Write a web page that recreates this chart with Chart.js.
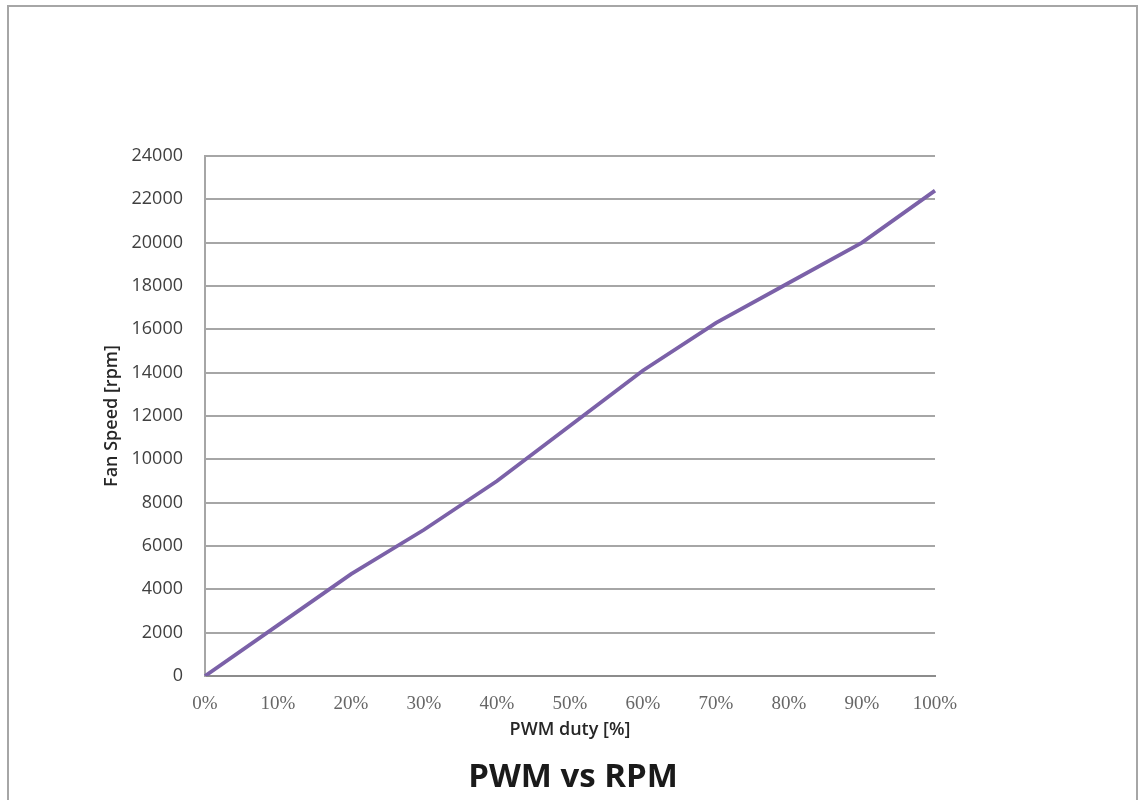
<!DOCTYPE html>
<html>
<head>
<meta charset="utf-8">
<script src="https://cdn.jsdelivr.net/npm/chart.js@4/dist/chart.umd.min.js"></script>
<style>
  html, body { margin: 0; padding: 0; background: #fff; }
  #frame {
    position: absolute; left: 7px; top: 5px; width: 1131px; height: 800px;
    border: 2px solid #a6a6a6; border-bottom: none; box-sizing: border-box;
  }
  #wrap { position: absolute; left: 0; top: 0; width: 1146px; height: 800px; }
</style>
</head>
<body>
<div id="frame"></div>
<div id="wrap"><canvas id="chart"></canvas></div>
<script>
// PWM duty steps and measured fan speed
const dutyLabels = ["0%", "10%", "20%", "30%", "40%", "50%", "60%", "70%", "80%", "90%", "100%"];
const fanRpm = [0, 2350, 4700, 6750, 9000, 11550, 14100, 16300, 18150, 20000, 22400];
const rpmTicks = [0, 2000, 4000, 6000, 8000, 10000, 12000, 14000, 16000, 18000, 20000, 22000, 24000];

document.addEventListener("DOMContentLoaded", () => {
    const ctx = document.getElementById("chart").getContext("2d");

    new Chart(ctx, {
        type: "line",
        data: {
            labels: dutyLabels,
            datasets: [{
                label: "Fan Speed",
                data: fanRpm,
                borderColor: "#7b61a8",
                borderWidth: 3.8,
                pointRadius: 0,
                tension: 0,
                fill: false
            }]
        },
        options: {
            responsive: true,
            maintainAspectRatio: false,
            animation: false,
            layout: { padding: { left: 0, right: 0, top: 156, bottom: 0 } },
            plugins: {
                legend: { display: false },
                tooltip: { enabled: false },
                title: {
                    display: true,
                    position: "bottom",
                    text: "PWM vs RPM",
                    color: "#1a1a1a",
                    font: { family: "Open Sans", size: 33, weight: "bold" },
                    padding: { top: 0, bottom: 3 }
                }
            },
            scales: {
                x: {
                    grid: { display: false },
                    border: { display: true, color: "#8c8c8c", width: 2 },
                    ticks: {
                        color: "#666666",
                        font: { family: "Liberation Serif", size: 19 },
                        padding: 9,
                        maxRotation: 0,
                        autoSkip: false
                    },
                    title: {
                        display: true,
                        text: "PWM duty [%]",
                        color: "#262626",
                        font: { family: "Open Sans", size: 18, weight: "600" },
                        padding: { top: 0, bottom: 17 }
                    },
                    afterFit: (scale) => { scale.height = 81.4; }
                },
                y: {
                    min: 0,
                    max: 24000,
                    afterBuildTicks: (scale) => {
                        scale.ticks = rpmTicks.map(v => ({ value: v }));
                    },
                    grid: { color: "#a6a6a6", lineWidth: 2, drawTicks: false },
                    border: { display: true, color: "#a6a6a6", width: 2 },
                    ticks: {
                        color: "#404040",
                        font: { family: "Open Sans", size: 18 },
                        padding: 22,
                        callback: (v) => String(v)
                    },
                    title: {
                        display: true,
                        text: "Fan Speed [rpm]",
                        color: "#262626",
                        font: { family: "Open Sans", size: 18, weight: "600" },
                        padding: { top: 101, bottom: 0 }
                    },
                    afterFit: (scale) => { scale.width = 205; }
                },
                // empty axis that only reserves the blank space right of the plot
                yRight: {
                    position: "right",
                    grid: { display: false },
                    border: { display: false },
                    ticks: { display: false },
                    afterFit: (scale) => { scale.width = 211; }
                }
            }
        }
    });
});
</script>
</body>
</html>
